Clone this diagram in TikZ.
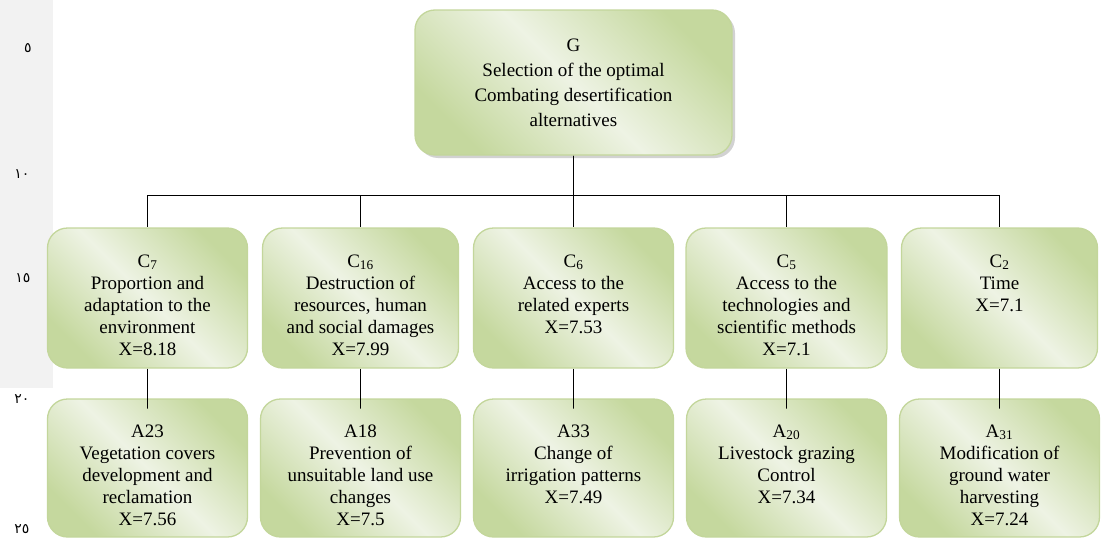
\documentclass[tikz,border=0pt]{standalone}
\usepackage{fontspec}
\setmainfont{Liberation Serif}
\newfontfamily\arabicdigits[Script=Arabic]{DejaVu Sans}
\usetikzlibrary{shadows}

\definecolor{boxedge}{HTML}{C3D69B}
\definecolor{boxlight}{HTML}{EEF3E4}
\definecolor{boxdark}{HTML}{C5D89E}
\definecolor{margingray}{HTML}{F2F2F2}

\newcommand{\boxlines}[1]{\parbox[c][138pt][t]{196pt}{\centering\rule{0pt}{38pt}#1}}

\begin{document}
\begin{tikzpicture}
            [
                x=1pt, y=1pt,
                greenbox/.style={draw=boxedge, line width=1.3pt, rounded corners=20pt,
                    inner sep=0pt, shading=axis, top color=boxdark, bottom color=boxdark,
                    middle color=boxlight, shading angle=-45,
                    font=\fontsize{19}{22}\selectfont},
                level 1/.style={sibling distance=213pt, level distance=215.5pt,
                    edge from parent path={(\tikzparentnode.south) -- ++(0,-40)
                        -| (\tikzchildnode.north)}},
                level 2/.style={level distance=170pt},
                edge from parent/.style={draw=black, line width=0.9pt},
                linenum/.style={font=\arabicdigits\fontsize{14}{14}\selectfont}
            ]
            \useasboundingbox (0,0) rectangle (1106,-538);
            \fill[margingray] (0,0) rectangle (53,-388);
            \node[linenum] (n5) at (28,-48) {٥};
            \node[linenum] (n10) at (22,-174) {١٠};
            \node[linenum] (n15) at (23,-278) {١٥};
            \node[linenum] (n20) at (22,-399) {٢٠};
            \node[linenum] (n25) at (22,-529) {٢٥};
            \node[greenbox, minimum width=317pt, minimum height=145pt, align=center,
                  font=\fontsize{19}{25}\selectfont,
                  drop shadow={shadow xshift=3pt, shadow yshift=-3pt, fill=gray!70}]
                (goal) at (573.5,-82.5)
                {G \\ Selection of the optimal \\ Combating desertification \\ alternatives}
                child {
                    node[greenbox, minimum width=200pt, minimum height=140pt] (c7)
                        {\boxlines{C\textsubscript{7} \\ Proportion and \\ adaptation to the \\ environment \\ X=8.18}}
                    child {
                        node[greenbox, minimum width=200pt] (a23)
                            {\boxlines{A23 \\ Vegetation covers \\ development and \\ reclamation \\ X=7.56}}
                    }
                }
                child {
                    node[greenbox, minimum width=196pt, minimum height=140pt] (c16)
                        {\boxlines{C\textsubscript{16} \\ Destruction of \\ resources, human \\ and social damages \\ X=7.99}}
                    child {
                        node[greenbox, minimum width=200pt] (a18)
                            {\boxlines{A18 \\ Prevention of \\ unsuitable land use \\ changes \\ X=7.5}}
                    }
                }
                child {
                    node[greenbox, minimum width=200pt, minimum height=140pt] (c6)
                        {\boxlines{C\textsubscript{6} \\ Access to the \\ related experts \\ X=7.53}}
                    child {
                        node[greenbox, minimum width=200pt] (a33)
                            {\boxlines{A33 \\ Change of \\ irrigation patterns \\ X=7.49}}
                    }
                }
                child {
                    node[greenbox, minimum width=201pt, minimum height=140pt] (c5)
                        {\boxlines{C\textsubscript{5} \\ Access to the \\ technologies and \\ scientific methods \\ X=7.1}}
                    child {
                        node[greenbox, minimum width=200pt] (a20)
                            {\boxlines{A\textsubscript{20} \\ Livestock grazing \\ Control \\ X=7.34}}
                    }
                }
                child {
                    node[greenbox, minimum width=196pt, minimum height=140pt] (c2)
                        {\boxlines{C\textsubscript{2} \\ Time \\ X=7.1}}
                    child {
                        node[greenbox, minimum width=200pt] (a31)
                            {\boxlines{A\textsubscript{31} \\ Modification of \\ ground water \\ harvesting \\ X=7.24}}
                    }
                };
        \end{tikzpicture}
\end{document}
